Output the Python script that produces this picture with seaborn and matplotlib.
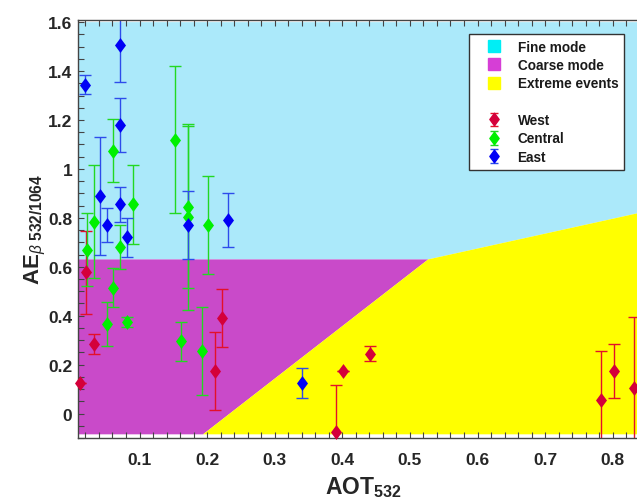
import numpy as np
import matplotlib
matplotlib.use("Agg")
import matplotlib.pyplot as plt
from matplotlib.path import Path
from matplotlib.patches import Polygon
from matplotlib.lines import Line2D
import seaborn as sns

# ---------------- data ----------------
west_x = [0.0115, 0.021, 0.032, 0.212, 0.222, 0.391, 0.401, 0.441, 0.782, 0.802, 0.832]
west_y = [0.125, 0.578, 0.285, 0.175, 0.39, -0.075, 0.175, 0.245, 0.055, 0.175, 0.105]
west_e = [0.0, 0.17, 0.04, 0.16, 0.12, 0.19, 0.0, 0.03, 0.20, 0.11, 0.29]

central_x = [0.022, 0.032, 0.052, 0.061, 0.061, 0.071, 0.082, 0.090, 0.152, 0.162, 0.172, 0.172, 0.192, 0.202]
central_y = [0.67, 0.785, 0.365, 0.515, 1.075, 0.68, 0.375, 0.855, 1.12, 0.295, 0.845, 0.805, 0.255, 0.77]
central_e = [0.15, 0.23, 0.09, 0.08, 0.13, 0.09, 0.02, 0.16, 0.30, 0.08, 0.33, 0.38, 0.18, 0.20]

east_x = [0.020, 0.041, 0.052, 0.071, 0.071, 0.071, 0.082, 0.172, 0.231, 0.341]
east_y = [1.345, 0.89, 0.77, 1.505, 1.18, 0.855, 0.72, 0.77, 0.79, 0.125]
east_e = [0.04, 0.24, 0.07, 0.15, 0.11, 0.07, 0.08, 0.14, 0.11, 0.06]

# region boundaries (AOT, AE)
fine_poly = [(0.0, 0.63), (0.527, 0.63), (1.0, 0.918), (1.0, 1.6), (0.0, 1.6)]
coarse_poly = [(0.0, -0.085), (0.194, -0.085), (0.527, 0.63), (0.0, 0.63)]
extreme_poly = [(0.194, -0.085), (0.527, 0.63), (1.0, 0.918), (1.0, -0.085)]

xticks = [0.1, 0.2, 0.3, 0.4, 0.5, 0.6, 0.7, 0.8]
yticks = [0, 0.2, 0.4, 0.6, 0.8, 1.0, 1.2, 1.4, 1.6]
ytick_labels = ["0", "0.2", "0.4", "0.6", "0.8", "1", "1.2", "1.4", "1.6"]

# ---------------- style ----------------
sns.set_theme(style="ticks")
plt.rcParams["font.family"] = ["Liberation Sans", "DejaVu Sans"]
plt.rcParams["mathtext.fontset"] = "custom"
plt.rcParams["mathtext.rm"] = "Liberation Sans:bold"
plt.rcParams["mathtext.it"] = "Liberation Sans:italic"
plt.rcParams["mathtext.bf"] = "Liberation Sans:bold"

fig = plt.figure(figsize=(6.37, 5.02), dpi=100)
ax_w_px = 570
ax = fig.add_axes([78 / 637, 1 - 439 / 502, ax_w_px / 637, (439 - 20.7) / 502])

c_fine, c_coarse, c_ext = "#ABE9FA", "#C94AC9", "#FFFF00"
ax.add_patch(Polygon(fine_poly, closed=True, facecolor=c_fine, edgecolor="none", zorder=0))
ax.add_patch(Polygon(coarse_poly, closed=True, facecolor=c_coarse, edgecolor="none", zorder=0))
ax.add_patch(Polygon(extreme_poly, closed=True, facecolor=c_ext, edgecolor="none", zorder=0))

diamond = Path([(0, 1), (0.74, 0), (0, -1), (-0.74, 0), (0, 1)],
               [Path.MOVETO, Path.LINETO, Path.LINETO, Path.LINETO, Path.CLOSEPOLY])

groups = [
    ("West", west_x, west_y, west_e, "#D4003A", "#E3102A"),
    ("Central", central_x, central_y, central_e, "#00F000", "#22D822"),
    ("East", east_x, east_y, east_e, "#0000F5", "#2D4CEB"),
]
for name, gx, gy, ge, mc, ec in groups:
    ax.errorbar(gx, gy, yerr=ge, fmt="none", ecolor=ec, elinewidth=1.0,
                capsize=4, capthick=1.0, zorder=2)
    sns.scatterplot(x=gx, y=gy, marker=diamond, s=115, color=mc,
                    edgecolor=mc, linewidth=0, ax=ax, zorder=3, legend=False,
                    clip_on=False)

x0 = 0.009
ax.set_xlim(x0, x0 + ax_w_px / 676)
ax.set_ylim(-0.1, 1.61)
ax.set_xticks(xticks)
ax.set_xticklabels([f"{t:g}" for t in xticks])
ax.set_yticks(yticks)
ax.set_yticklabels(ytick_labels)
ax.set_xticks(np.arange(0.02, 0.85, 0.02), minor=True)
ax.set_yticks(np.arange(-0.1, 1.61, 0.05), minor=True)

spine_c = "#444444"
for s in ax.spines.values():
    s.set_color(spine_c)
    s.set_linewidth(1.0)
ax.tick_params(which="both", direction="in", top=True, right=True, length=4,
               width=0.8, color=spine_c)
ax.tick_params(which="major", labelsize=12.5, labelcolor="#262626")
ax.tick_params(axis="x", which="major", pad=10)
ax.tick_params(axis="y", which="major", pad=4)
for lab in ax.get_xticklabels() + ax.get_yticklabels():
    lab.set_fontweight("bold")

ax.set_xlabel(r"AOT$_{532}$", fontsize=16.5, fontweight="bold", color="#262626", labelpad=5)
ax.set_ylabel(r"AE$_{\beta\ \mathbf{532/1064}}$", fontsize=16, fontweight="bold",
              color="#262626", labelpad=0)

# ---------------- legend ----------------
handles = [
    Line2D([], [], marker="s", linestyle="none", markersize=9, markerfacecolor="#00EEF5",
           markeredgecolor="#00EEF5"),
    Line2D([], [], marker="s", linestyle="none", markersize=9, markerfacecolor="#D63ED6",
           markeredgecolor="#D63ED6"),
    Line2D([], [], marker="s", linestyle="none", markersize=9, markerfacecolor="#FFFF00",
           markeredgecolor="#FFFF00"),
    Line2D([], [], linestyle="none", marker=None),
]
labels = ["Fine mode", "Coarse mode", "Extreme events", " "]
for name, gx, gy, ge, mc, ec in groups:
    hh = ax.errorbar([np.nan], [np.nan], yerr=[0.1], ecolor=ec, capsize=3,
                     elinewidth=1.0, marker=diamond, markersize=9, mfc=mc, mec=mc,
                     linestyle="none")
    handles.append(hh)
    labels.append(name)

leg = ax.legend(handles, labels, loc="upper left",
                bbox_to_anchor=(469 / 637, 1 - 35 / 502), bbox_transform=fig.transFigure,
                prop={"weight": "bold", "size": 9.8}, frameon=True, fancybox=False,
                framealpha=1, edgecolor="#333333", handlelength=2.78, handletextpad=0.37,
                labelspacing=0.32, borderpad=0.42, borderaxespad=0)
leg.get_frame().set_linewidth(1.0)
for t in leg.get_texts():
    t.set_color("#1a1a1a")

fig.savefig("out.png", dpi=100)
